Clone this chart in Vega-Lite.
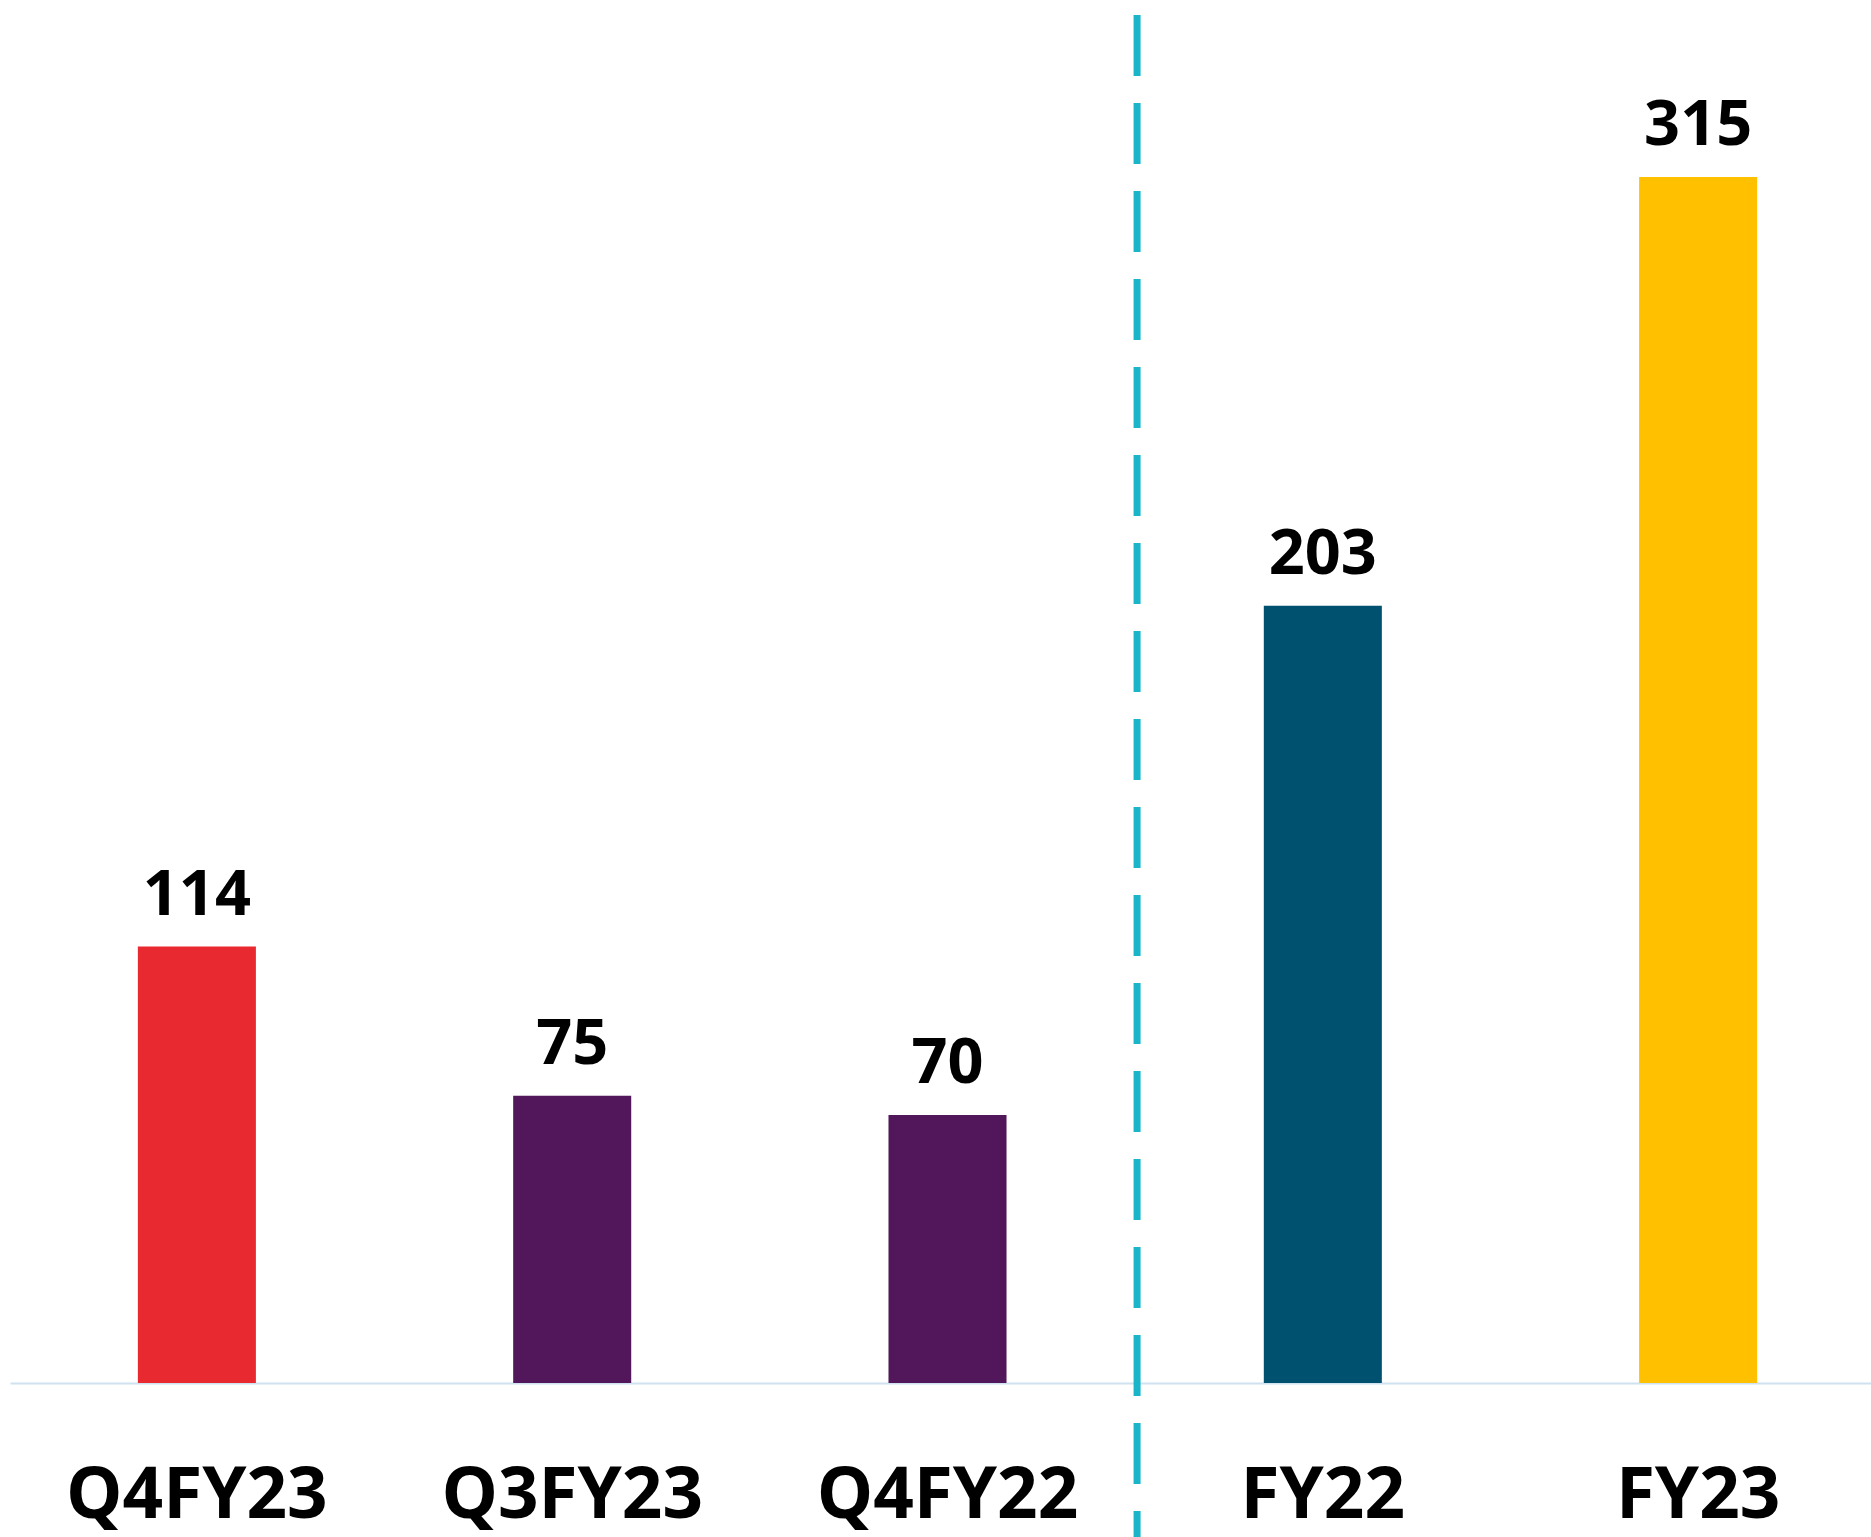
{
  "$schema": "https://vega.github.io/schema/vega-lite/v6.json",
  "width": 1861,
  "height": 1383,
  "autosize": {"type": "none"},
  "padding": {"left": 10, "top": 0, "right": 0, "bottom": 154},
  "background": "white",
  "config": {"view": {"stroke": null}},
  "data": {"values": [
    {"period": "Q4FY23", "value": 114, "grp": "a"},
    {"period": "Q3FY23", "value": 75, "grp": "b"},
    {"period": "Q4FY22", "value": 70, "grp": "b"},
    {"period": "FY22", "value": 203, "grp": "c"},
    {"period": "FY23", "value": 315, "grp": "d"}
  ]},
  "encoding": {
    "x": {
      "field": "period", "type": "nominal", "sort": null,
      "scale": {"paddingInner": 0.6855, "paddingOuter": 0.322, "align": 0.529},
      "axis": {
        "title": null, "ticks": false, "labelAngle": 0, "labelLimit": 0,
        "labelFont": "Open Sans", "labelFontWeight": 700, "labelFontSize": 71,
        "labelColor": "#000000", "labelBaseline": "alphabetic", "labelPadding": 134,
        "domainColor": "#cfe2f0", "domainWidth": 2, "labelOverlap": false
      }
    }
  },
  "layer": [
    {
      "mark": {"type": "bar"},
      "encoding": {
        "y": {"field": "value", "type": "quantitative", "scale": {"domain": [0, 361.2], "nice": false, "zero": true}, "axis": null},
        "color": {"field": "grp", "type": "nominal", "legend": null,
          "scale": {"domain": ["a", "b", "c", "d"], "range": ["#E8292F", "#52175A", "#00506F", "#FFC000"]}}
      }
    },
    {
      "mark": {"type": "text", "baseline": "alphabetic", "dy": -32, "font": "Open Sans", "fontWeight": 700, "fontSize": 63, "color": "#000000"},
      "encoding": {
        "y": {"field": "value", "type": "quantitative"},
        "text": {"field": "value", "type": "quantitative"}
      }
    },
    {
      "data": {"values": [{"period": "Q4FY22", "top": 361.2, "bottom": -41}]},
      "mark": {"type": "rule", "color": "#1AB5C9", "strokeWidth": 7, "strokeDash": [61, 27], "strokeDashOffset": 73},
      "encoding": {
        "x": {"field": "period", "type": "nominal", "bandPosition": 2.106},
        "y": {"field": "top", "type": "quantitative"},
        "y2": {"field": "bottom"}
      }
    }
  ]
}
